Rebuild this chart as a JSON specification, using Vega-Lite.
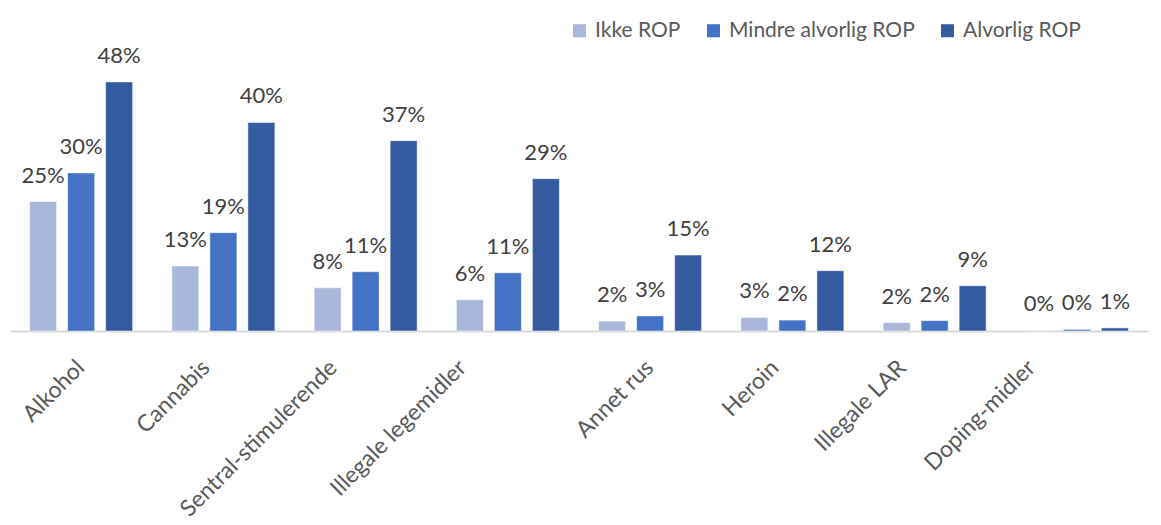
{
  "$schema": "https://vega.github.io/schema/vega-lite/v6.json",
  "width": 1138,
  "height": 260,
  "autosize": {"type": "none"},
  "padding": {"left": 10, "top": 71, "right": 13, "bottom": 194},
  "background": "white",
  "config": {
    "view": {"stroke": null},
    "font": "Lato",
    "text": {"font": "Lato"}
  },
  "data": {
    "values": [
      {"rus": "Alkohol", "gruppe": "Ikke ROP", "andel": 0.249},
      {"rus": "Alkohol", "gruppe": "Mindre alvorlig ROP", "andel": 0.304},
      {"rus": "Alkohol", "gruppe": "Alvorlig ROP", "andel": 0.479},
      {"rus": "Cannabis", "gruppe": "Ikke ROP", "andel": 0.125},
      {"rus": "Cannabis", "gruppe": "Mindre alvorlig ROP", "andel": 0.189},
      {"rus": "Cannabis", "gruppe": "Alvorlig ROP", "andel": 0.401},
      {"rus": "Sentral-stimulerende", "gruppe": "Ikke ROP", "andel": 0.083},
      {"rus": "Sentral-stimulerende", "gruppe": "Mindre alvorlig ROP", "andel": 0.114},
      {"rus": "Sentral-stimulerende", "gruppe": "Alvorlig ROP", "andel": 0.366},
      {"rus": "Illegale legemidler", "gruppe": "Ikke ROP", "andel": 0.06},
      {"rus": "Illegale legemidler", "gruppe": "Mindre alvorlig ROP", "andel": 0.112},
      {"rus": "Illegale legemidler", "gruppe": "Alvorlig ROP", "andel": 0.293},
      {"rus": "Annet rus", "gruppe": "Ikke ROP", "andel": 0.019},
      {"rus": "Annet rus", "gruppe": "Mindre alvorlig ROP", "andel": 0.029},
      {"rus": "Annet rus", "gruppe": "Alvorlig ROP", "andel": 0.146},
      {"rus": "Heroin", "gruppe": "Ikke ROP", "andel": 0.026},
      {"rus": "Heroin", "gruppe": "Mindre alvorlig ROP", "andel": 0.021},
      {"rus": "Heroin", "gruppe": "Alvorlig ROP", "andel": 0.116},
      {"rus": "Illegale LAR", "gruppe": "Ikke ROP", "andel": 0.016},
      {"rus": "Illegale LAR", "gruppe": "Mindre alvorlig ROP", "andel": 0.02},
      {"rus": "Illegale LAR", "gruppe": "Alvorlig ROP", "andel": 0.087},
      {"rus": "Doping-midler", "gruppe": "Ikke ROP", "andel": 0.001},
      {"rus": "Doping-midler", "gruppe": "Mindre alvorlig ROP", "andel": 0.003},
      {"rus": "Doping-midler", "gruppe": "Alvorlig ROP", "andel": 0.006}
    ]
  },
  "encoding": {
    "x": {
      "field": "rus",
      "type": "nominal",
      "sort": null,
      "scale": {"paddingInner": 0.276, "paddingOuter": 0.138},
      "axis": {
        "title": null,
        "ticks": false,
        "domainColor": "#D9D9D9",
        "domainWidth": 2,
        "labelAngle": -45,
        "labelAlign": "right",
        "labelBaseline": "top",
        "labelPadding": 25,
        "labelFontSize": 23,
        "labelColor": "#595959",
        "labelFont": "Lato",
        "labelLimit": 400,
        "labelOffset": {
          "condition": [
            {"test": "datum.value === 'Cannabis' || datum.value === 'Heroin'", "value": -25},
            {"test": "datum.value === 'Sentral-stimulerende' || datum.value === 'Illegale LAR'", "value": -40},
            {"test": "datum.value === 'Illegale legemidler' || datum.value === 'Doping-midler'", "value": -53}
          ],
          "value": -8
        }
      }
    },
    "xOffset": {
      "field": "gruppe",
      "type": "nominal",
      "sort": ["Ikke ROP", "Mindre alvorlig ROP", "Alvorlig ROP"],
      "scale": {"domain": ["Ikke ROP", "Mindre alvorlig ROP", "Alvorlig ROP"], "paddingInner": 0.29, "paddingOuter": 0}
    },
    "y": {
      "field": "andel",
      "type": "quantitative",
      "scale": {"domain": [0, 0.5], "nice": false},
      "axis": null
    }
  },
  "layer": [
    {
      "mark": {"type": "bar", "stroke": "white", "strokeWidth": 0.5},
      "encoding": {
        "color": {
          "field": "gruppe",
          "type": "nominal",
          "scale": {
            "domain": ["Ikke ROP", "Mindre alvorlig ROP", "Alvorlig ROP"],
            "range": ["#A9B7DB", "#4472C4", "#345AA0"]
          },
          "legend": {
            "title": null,
            "orient": "none",
            "legendX": 559,
            "legendY": -51,
            "direction": "horizontal",
            "columns": 3,
            "symbolType": "square",
            "symbolSize": 170,
            "symbolStrokeWidth": 0,
            "labelFontSize": 21,
            "labelFont": "Lato",
            "labelColor": "#595959",
            "labelOffset": 5,
            "columnPadding": 22,
            "labelLimit": 400
          }
        }
      }
    },
    {
      "mark": {"type": "text", "baseline": "alphabetic", "align": "center", "dy": -19, "fontSize": 22, "color": "#404040", "font": "Lato"},
      "encoding": {
        "text": {"field": "andel", "type": "quantitative", "format": ".0%"}
      }
    }
  ]
}
